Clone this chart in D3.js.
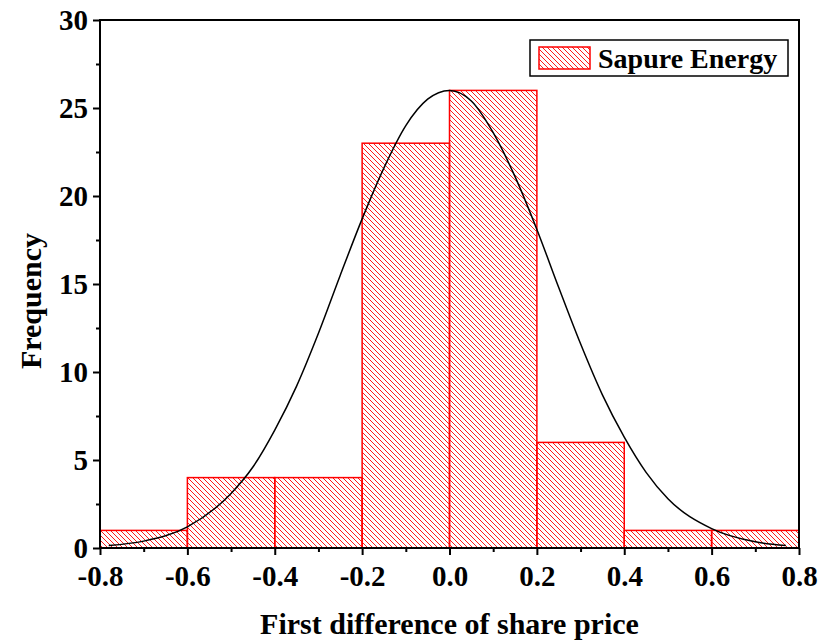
<!DOCTYPE html>
<html>
<head>
<meta charset="utf-8">
<script src="https://cdn.jsdelivr.net/npm/d3@7"></script>
<style>
  body { margin: 0; background: #fff; }
  text { font-family: "Liberation Serif", "Times New Roman", serif; font-weight: bold; }
</style>
</head>
<body>
<div id="chart"><svg></svg></div>
<script>
// histogram bins (left edge, right edge, count)
const binStart = [-0.8, -0.6, -0.4, -0.2, 0.0, 0.2, 0.4, 0.6];
const binEnd   = [-0.6, -0.4, -0.2, 0.0, 0.2, 0.4, 0.6, 0.8];
const counts   = [1, 4, 4, 23, 26, 6, 1, 1];

// normal fit curve
const curveX = [-0.78, -0.7, -0.6, -0.5, -0.45, -0.4, -0.35, -0.3, -0.25, -0.2, -0.15, -0.1, -0.05, 0.0, 0.05, 0.1, 0.15, 0.2, 0.25, 0.3, 0.35, 0.4, 0.45, 0.5, 0.6, 0.7, 0.77];
const curveY = [0.14, 0.39, 1.2, 3.1, 4.6, 6.7, 9.2, 12.2, 15.5, 18.7, 21.6, 24.0, 25.5, 26.0, 25.4, 23.6, 21.1, 18.1, 14.8, 11.6, 8.7, 6.3, 4.3, 2.8, 1.1, 0.35, 0.14];

const xTicks = [-0.8, -0.6, -0.4, -0.2, 0.0, 0.2, 0.4, 0.6, 0.8];
const yTicks = [0, 5, 10, 15, 20, 25, 30];
const seriesName = "Sapure Energy";

const width = 820, height = 644;
const m = {left: 100, right: 21, top: 20, bottom: 96};

let svg = d3.select("#chart").select("svg")
			.attr("width", width)
			.attr("height", height);

let x = d3.scaleLinear().domain([-0.8, 0.8]).range([m.left, width - m.right]);
let y = d3.scaleLinear().domain([0, 30]).range([height - m.bottom, m.top]);

// hatch pattern "\\\"
let defs = svg.append("defs");
let pat = defs.append("pattern")
			.attr("id", "hatch")
			.attr("patternUnits", "userSpaceOnUse")
			.attr("width", 5)
			.attr("height", 5);
pat.append("path")
	.attr("d", "M0,0 L5,5 M-1,4 L1,6 M4,-1 L6,1")
	.attr("stroke", "#ff0000")
	.attr("stroke-width", 0.9);

let data = counts.map((c, i) => ({x0: binStart[i], x1: binEnd[i], n: c}));

svg.selectAll("rect.bar")
	.data(data)
	.enter()
	.append("rect")
	.attr("class", "bar")
	.attr("x", d => x(d.x0))
	.attr("width", d => x(d.x1) - x(d.x0))
	.attr("y", d => y(d.n))
	.attr("height", d => y(0) - y(d.n))
	.attr("fill", "url(#hatch)")
	.attr("stroke", "#ff0000")
	.attr("stroke-width", 1.5);

// fit curve
let pts = curveX.map((v, i) => [v, curveY[i]]);
svg.append("path")
	.datum(pts)
	.attr("fill", "none")
	.attr("stroke", "#000")
	.attr("stroke-width", 1.5)
	.attr("d", d3.line().x(d => x(d[0])).y(d => y(d[1])).curve(d3.curveMonotoneX));

// frame
svg.append("rect")
	.attr("x", m.left).attr("y", m.top)
	.attr("width", width - m.right - m.left)
	.attr("height", height - m.bottom - m.top)
	.attr("fill", "none")
	.attr("stroke", "#000")
	.attr("stroke-width", 2);

// axes
let xAxis = svg.append("g")
	.attr("transform", `translate(0,${y(0)})`)
	.call(d3.axisBottom(x).tickValues(xTicks).tickFormat(d => d.toFixed(1)).tickSize(7).tickSizeOuter(0));
let xMinor = svg.append("g")
	.attr("transform", `translate(0,${y(0)})`)
	.call(d3.axisBottom(x).tickValues([-0.7, -0.5, -0.3, -0.1, 0.1, 0.3, 0.5, 0.7]).tickFormat("").tickSize(4).tickSizeOuter(0));

let yAxis = svg.append("g")
	.attr("transform", `translate(${m.left},0)`)
	.call(d3.axisLeft(y).tickValues(yTicks).tickSize(7).tickSizeOuter(0));
let yMinor = svg.append("g")
	.attr("transform", `translate(${m.left},0)`)
	.call(d3.axisLeft(y).tickValues([2.5, 7.5, 12.5, 17.5, 22.5, 27.5]).tickFormat("").tickSize(4).tickSizeOuter(0));

svg.selectAll(".domain").remove();
svg.selectAll(".tick line").attr("stroke", "#000").attr("stroke-width", 2);
xAxis.selectAll("text").attr("font-size", 29).attr("dy", "0").attr("y", 38).attr("fill", "#000")
	.style("font-family", "'Liberation Serif', serif").style("font-weight", "bold");
yAxis.selectAll("text").attr("font-size", 29).attr("x", -12).attr("dy", "0.34em").attr("fill", "#000")
	.style("font-family", "'Liberation Serif', serif").style("font-weight", "bold");

// axis titles
svg.append("text")
	.attr("x", (m.left + width - m.right) / 2)
	.attr("y", 634)
	.attr("text-anchor", "middle")
	.attr("font-size", 30)
	.text("First difference of share price");

svg.append("text")
	.attr("transform", `translate(41,${(m.top + height - m.bottom) / 2 + 17}) rotate(-90)`)
	.attr("text-anchor", "middle")
	.attr("font-size", 30)
	.text("Frequency");

// legend
let lg = svg.append("g").attr("transform", "translate(530,40)");
lg.append("rect")
	.attr("width", 258).attr("height", 36)
	.attr("fill", "#fff").attr("stroke", "#000").attr("stroke-width", 1.5);
lg.append("rect")
	.attr("x", 9).attr("y", 7).attr("width", 51).attr("height", 22)
	.attr("fill", "url(#hatch)").attr("stroke", "#ff0000").attr("stroke-width", 1.5);
lg.append("text")
	.attr("x", 68).attr("y", 28)
	.attr("font-size", 28)
	.text(seriesName);
</script>
</body>
</html>
